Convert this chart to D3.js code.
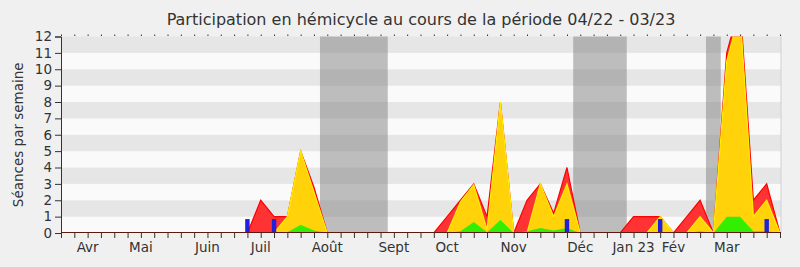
<!DOCTYPE html>
<html>
<head>
<meta charset="utf-8">
<script src="https://cdn.jsdelivr.net/npm/d3@7"></script>
<style>
  body { margin: 0; background: #f0f0f0; }
  text { font-family: "DejaVu Sans", sans-serif; fill: #333; }
</style>
</head>
<body>
<div id="chart"></div>
<script>
// week-by-week values (index = week since start of period)
const presence = [0,0,0,0,0,0,0,0,0,0,0,0,0,0,0,2,1,1,5,2.8,0,0,0,0,0,0,0,0,0,1,2,3,1,8,0,2,3,1.2,4,0,0,0,0,1,1,1,0,1,2,0,11,14,2,3,0];
const interventions = [0,0,0,0,0,0,0,0,0,0,0,0,0,0,0,0,0,1,5,2.5,0,0,0,0,0,0,0,0,0,0,1.9,2.95,0.2,8,0,0,3,1,3,0,0,0,0,0,0,1,0,0,1,0,10.5,13.5,1,2,0];
const shortInterventions = [0,0,0,0,0,0,0,0,0,0,0,0,0,0,0,0,0,0.05,0.5,0.15,0,0,0,0,0,0,0,0,0,0,0.1,0.67,0.05,0.8,0,0.1,0.3,0.15,0.3,0,0,0,0,0,0,0.05,0,0,0.1,0,1,1,0.1,0.1,0];
const questionWeeks = [14, 16, 38, 45, 53];
const questionCounts = [1, 1, 1, 1, 1];
const vacations = [[19.45, 24.54], [38.47, 42.49], [48.44, 49.55]];
const monthLabels = ["Avr","Mai","Juin","Juil","Août","Sept","Oct","Nov","Déc","Jan 23","Fév","Mar"];
const monthWeeks = [2, 6, 11, 15, 20, 25, 29, 34, 39, 43, 46, 50];

const W = 800, H = 267;
const pLeft = 61, pRight = 780, pTop = 36.5, pBottom = 233;

document.addEventListener('DOMContentLoaded', function () {
  const svg = d3.select("#chart").append("svg")
    .attr("width", W).attr("height", H);

  const x = d3.scaleLinear().domain([0, presence.length - 1]).range([pLeft, pRight]);
  const y = d3.scaleLinear().domain([0, 12]).range([pBottom, pTop]);

  // striped background
  const g = svg.append("g");
  g.selectAll("rect.band")
    .data(d3.range(12))
    .join("rect")
      .attr("x", pLeft).attr("width", pRight + 1 - pLeft)
      .attr("y", d => y(d + 1)).attr("height", d => y(d) - y(d + 1))
      .attr("fill", d => d % 2 ? "#e6e6e6" : "#fafafa");

  // vacations
  g.selectAll("rect.vac")
    .data(vacations)
    .join("rect")
      .attr("x", d => x(d[0])).attr("width", d => x(d[1]) - x(d[0]))
      .attr("y", pTop).attr("height", pBottom - pTop)
      .attr("fill", "#808080").attr("opacity", 0.5);

  svg.append("defs").append("clipPath").attr("id", "clip")
    .append("rect").attr("x", pLeft).attr("y", pTop)
    .attr("width", pRight + 1 - pLeft).attr("height", pBottom - pTop);

  const plot = svg.append("g").attr("clip-path", "url(#clip)");

  const series = [
    {values: presence, fill: "#ff3333", stroke: "#ff0000"},
    {values: interventions, fill: "#ffd20a", stroke: "#ffee00"},
    {values: shortInterventions, fill: "#33ee00", stroke: null}
  ];
  const area = d3.area().x((d, i) => x(i)).y0(y(0)).y1(d => y(d));
  const line = d3.line().x((d, i) => x(i)).y(d => y(d));

  series.forEach(s => {
    plot.append("path").attr("d", area(s.values)).attr("fill", s.fill);
    if (s.stroke) plot.append("path").attr("d", line(s.values))
      .attr("fill", "none").attr("stroke", s.stroke).attr("stroke-width", 1.2);
  });

  // questions
  plot.selectAll("rect.q")
    .data(questionWeeks)
    .join("rect")
      .attr("x", d => x(d) - 2.2).attr("width", 4.4)
      .attr("y", (d, i) => y(questionCounts[i] * 0.85))
      .attr("height", (d, i) => y(0) - y(questionCounts[i] * 0.85))
      .attr("fill", "#2020dd");

  // right border
  svg.append("line").attr("x1", pRight + 1).attr("x2", pRight + 1)
    .attr("y1", pTop).attr("y2", pBottom).attr("stroke", "#d0d0d0");

  // y axis
  const yAxis = svg.append("g").attr("transform", `translate(${pLeft},0)`)
    .call(d3.axisLeft(y).ticks(12).tickSize(6).tickPadding(3));
  yAxis.selectAll("text").style("font-size", "13.5px").attr("fill", "#333");
  yAxis.selectAll("line,path").attr("stroke", "#333");

  // x axis, weekly ticks
  const xAxis = svg.append("g").attr("transform", `translate(0,${pBottom})`)
    .call(d3.axisBottom(x).tickValues(d3.range(presence.length)).tickSize(5).tickFormat(""));
  xAxis.selectAll("line,path").attr("stroke", "#333");
  xAxis.select(".domain").attr("d", `M${pLeft},-0.5H${pRight + 1}`).attr("stroke", "#5a1a10");

  // little ticks along the top
  svg.append("g").selectAll("line")
    .data(d3.range(presence.length))
    .join("line")
      .attr("x1", d => x(d) + 0.5).attr("x2", d => x(d) + 0.5)
      .attr("y1", pTop - 2).attr("y2", pTop - 0.5)
      .attr("stroke", "#333");

  svg.append("g").selectAll("text")
    .data(monthLabels)
    .join("text")
      .attr("x", (d, i) => x(monthWeeks[i]))
      .attr("y", 252)
      .attr("text-anchor", "middle")
      .style("font-size", "13.5px")
      .text(d => d);

  // axis label and title
  svg.append("text")
    .attr("transform", `translate(23,${(pTop + pBottom) / 2}) rotate(-90)`)
    .attr("text-anchor", "middle")
    .style("font-size", "13.5px")
    .text("Séances par semaine");

  svg.append("text")
    .attr("x", 421).attr("y", 25)
    .attr("text-anchor", "middle")
    .style("font-size", "16px")
    .text("Participation en hémicycle au cours de la période 04/22 - 03/23");
});
</script>
</body>
</html>
